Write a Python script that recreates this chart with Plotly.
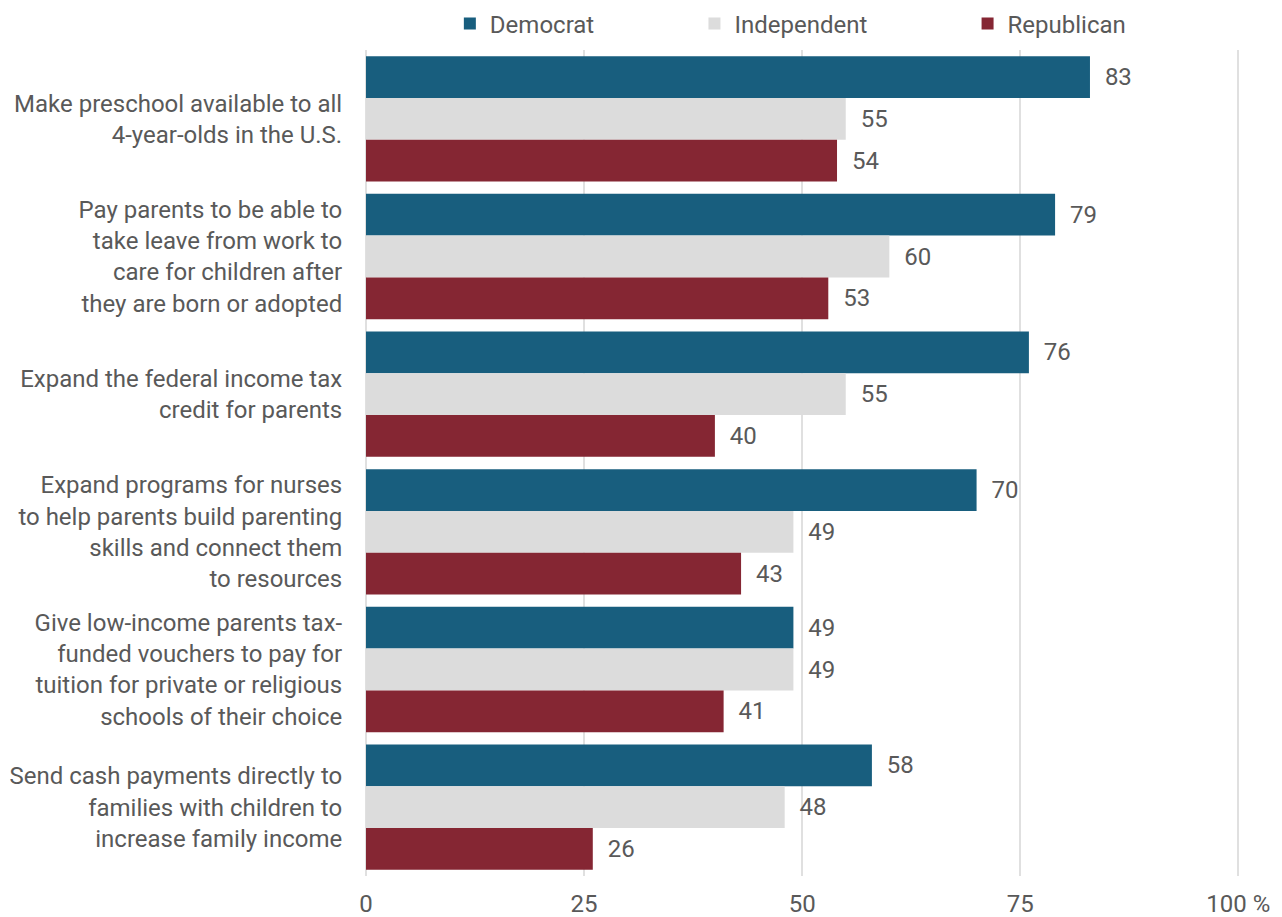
import plotly.graph_objects as go

categories = [
    "Make preschool available to all<br>4-year-olds in the U.S.",
    "Pay parents to be able to<br>take leave from work to<br>care for children after<br>they are born or adopted",
    "Expand the federal income tax<br>credit for parents",
    "Expand programs for nurses<br>to help parents build parenting<br>skills and connect them<br>to resources",
    "Give low-income parents tax-<br>funded vouchers to pay for<br>tuition for private or religious<br>schools of their choice",
    "Send cash payments directly to<br>families with children to<br>increase family income",
]
democrat = [83, 79, 76, 70, 49, 58]
independent = [55, 60, 55, 49, 49, 48]
republican = [54, 53, 40, 43, 41, 26]

tick_vals = [0, 25, 50, 75, 100]
tick_text = ["0", "25", "50", "75", "100 %"]

NB = "\u00a0"
series = [
    ("Democrat", democrat, "#185E7E", NB * 16),
    ("Independent", independent, "#DCDCDC", NB * 16),
    ("Republican", republican, "#852633", ""),
]

text_color = "#595959"
label_pad = NB * 2

fig = go.Figure()
for name, vals, color, trail in series:
    fig.add_trace(go.Bar(
        name=name + trail,
        y=categories,
        x=vals,
        orientation="h",
        marker=dict(color=color, line=dict(width=0)),
        text=[f"{label_pad}{v}" for v in vals],
        textposition="outside",
        textfont=dict(family="Roboto", size=24, color=text_color),
        cliponaxis=False,
    ))

fig.update_layout(
    width=1282,
    height=917,
    barmode="group",
    bargap=0.09,
    bargroupgap=0,
    plot_bgcolor="white",
    paper_bgcolor="white",
    font=dict(family="Roboto", size=24, color=text_color),
    margin=dict(l=366, r=42, t=50, b=41, autoexpand=False),
    legend=dict(
        orientation="h",
        xref="container",
        yref="container",
        x=0.6165,
        xanchor="center",
        y=0.974,
        yanchor="middle",
        font=dict(family="Roboto", size=24, color=text_color),
        bgcolor="rgba(0,0,0,0)",
    ),
    xaxis=dict(
        range=[0, 100.2],
        tickvals=tick_vals,
        ticktext=tick_text,
        showgrid=True,
        gridcolor="#E0E0E0",
        gridwidth=2,
        zeroline=True,
        zerolinecolor="#E0E0E0",
        zerolinewidth=2,
        showline=False,
        ticks="outside",
        ticklen=6,
        tickcolor="rgba(0,0,0,0)",
        tickfont=dict(size=24, color=text_color),
        automargin=False,
    ),
    yaxis=dict(
        autorange="reversed",
        showgrid=False,
        showline=False,
        ticks="outside",
        ticklen=18,
        tickcolor="rgba(0,0,0,0)",
        tickfont=dict(size=24, color=text_color),
        automargin=False,
    ),
)

fig.write_html("out.html")
